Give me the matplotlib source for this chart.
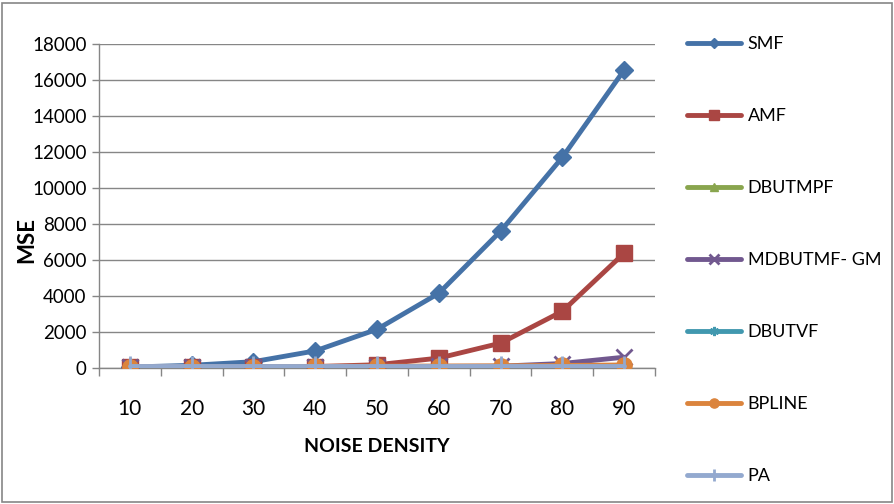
import matplotlib
matplotlib.use('Agg')
import matplotlib.pyplot as plt
from matplotlib.patches import Rectangle

noise_density = [10, 20, 30, 40, 50, 60, 70, 80, 90]

smf = [50, 150, 350, 950, 2150, 4150, 7600, 11700, 16550]
amf = [30, 40, 60, 80, 180, 550, 1380, 3150, 6380]
dbutmpf = [10, 10, 10, 10, 10, 10, 10, 10, 10]
mdbutmf_gm = [40, 50, 60, 70, 80, 90, 100, 250, 600]
dbutvf = [30, 30, 30, 30, 30, 30, 30, 30, 30]
bpline = [60, 70, 80, 90, 100, 110, 120, 140, 170]
pa = [90, 90, 90, 90, 90, 90, 90, 90, 90]

series = [
    ('SMF', smf, '#4572A7', 'D', 9),
    ('AMF', amf, '#AA4643', 's', 11),
    ('DBUTMPF', dbutmpf, '#89A54E', '^', 10),
    ('MDBUTMF- GM', mdbutmf_gm, '#71588F', 'x', 11),
    ('DBUTVF', dbutvf, '#4198AF', (6, 2, 0), 11),
    ('BPLINE', bpline, '#DB843D', 'o', 11),
    ('PA', pa, '#93A9CF', '|', 14),
]

plt.rcParams['font.family'] = ['Lato', 'DejaVu Sans']

fig = plt.figure(figsize=(8.95, 5.04), dpi=100)
ax = fig.add_axes([99 / 895, 1 - 368 / 504, 556 / 895, 324 / 504])

x = list(range(len(noise_density)))
for name, vals, color, marker, ms in series:
    mew = 2 if marker in ('x', '|') or isinstance(marker, tuple) else 1
    ax.plot(x, vals, color=color, lw=3.5, marker=marker, ms=ms,
            mew=mew, mfc=color, mec=color, label=name, solid_capstyle='round')

ax.set_xlim(-0.5, len(x) - 0.5)
ax.set_ylim(0, 18000)
ax.set_yticks(range(0, 18001, 2000))
ax.set_xticks(x)
ax.set_xticklabels([str(v) for v in noise_density])
ax.set_xticks([i + 0.5 for i in range(-1, len(x))], minor=True)
ax.tick_params(axis='x', which='major', length=0, pad=22, labelsize=15)
ax.tick_params(axis='x', which='minor', length=6, color='#868686', width=1)
ax.tick_params(axis='y', length=5, color='#868686', width=1, labelsize=13.5, pad=4)
ax.yaxis.grid(True, color='#868686', lw=1)
ax.set_axisbelow(True)
for side in ('top', 'right'):
    ax.spines[side].set_visible(False)
for side in ('left', 'bottom'):
    ax.spines[side].set_color('#868686')
    ax.spines[side].set_linewidth(1)
ax.spines['bottom'].set_zorder(0.5)

ax.set_xlabel('NOISE DENSITY', fontsize=14, fontweight='bold', labelpad=14)
fig.text(27 / 895, 1 - 240 / 504, 'MSE', fontsize=16, fontweight='bold',
         rotation=90, ha='center', va='center')

leg = fig.legend(loc='upper left', bbox_to_anchor=(680 / 895, 1 - 29 / 504),
                 frameon=False, fontsize=13, handlelength=3.0, handletextpad=0.35,
                 labelspacing=3.1, borderaxespad=0, markerscale=0.6)

fig.patches.append(Rectangle((2 / 895, 2 / 504), 890 / 895, 499 / 504,
                             transform=fig.transFigure, fill=False,
                             edgecolor='#868686', lw=1.2))

fig.savefig('out.png', dpi=100)
